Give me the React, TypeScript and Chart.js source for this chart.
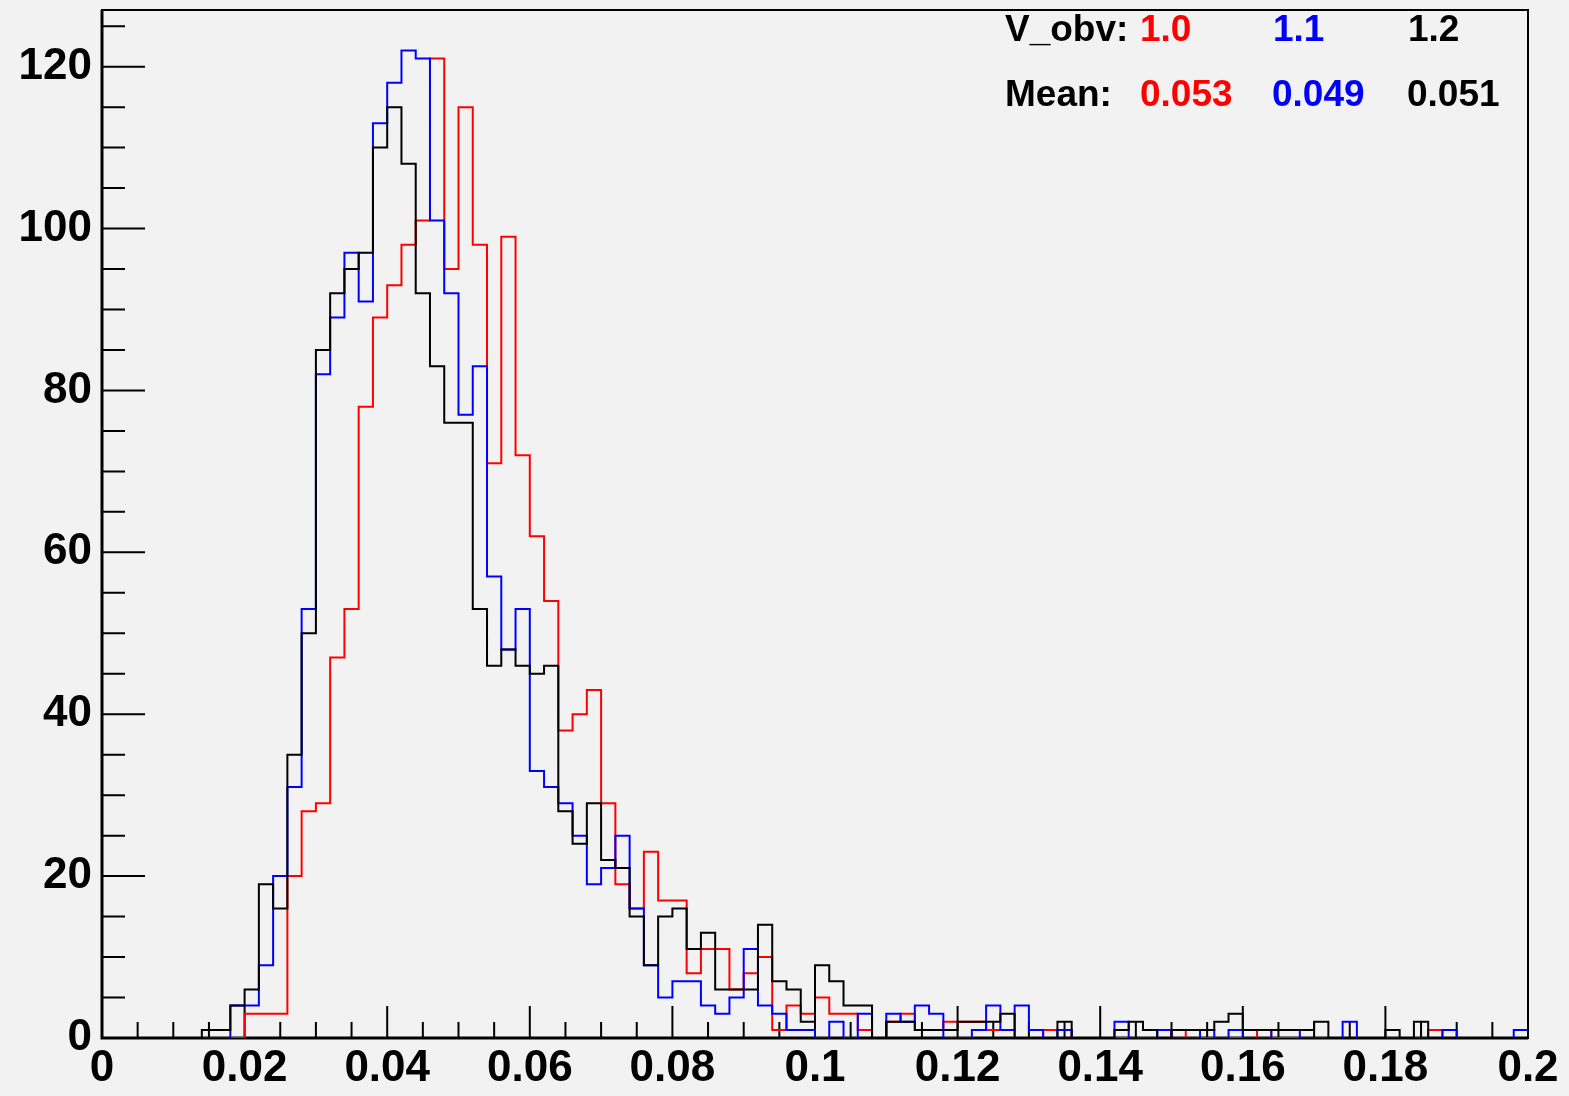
import React, { useEffect, useRef } from 'react';
import { Chart, registerables } from 'chart.js';

Chart.register(...registerables);

// ---- axis definition ----
const X_MIN = 0;
const X_MAX = 0.2;
const BIN_WIDTH = 0.002;
const Y_MIN = 0;
const Y_MAX = 127;

const X_TICKS = [0, 0.02, 0.04, 0.06, 0.08, 0.1, 0.12, 0.14, 0.16, 0.18, 0.2];
const X_TICK_LABELS = ['0', '0.02', '0.04', '0.06', '0.08', '0.1', '0.12', '0.14', '0.16', '0.18', '0.2'];
const X_MINOR_STEP = 0.005;
const Y_TICKS = [0, 20, 40, 60, 80, 100, 120];
const Y_TICK_LABELS = ['0', '20', '40', '60', '80', '100', '120'];
const Y_MINOR_STEP = 5;

// ---- legend text ----
const SERIES_NAMES = ['1.0', '1.1', '1.2'];
const SERIES_MEANS = ['0.053', '0.049', '0.051'];
const SERIES_COLORS = ['#ff0000', '#0000ff', '#000000'];

// ---- bin contents (100 bins of width 0.002 from 0 to 0.2) ----
const RED_COUNTS = [
  0, 0, 0, 0, 0, 0, 0, 0, 0, 0,
  3, 3, 3, 20, 28, 29, 47, 53, 78, 89,
  93, 98, 101, 121, 95, 115, 98, 71, 99, 72,
  62, 54, 38, 40, 43, 29, 19, 16, 23, 17,
  17, 8, 11, 11, 6, 8, 10, 1, 4, 3,
  5, 3, 3, 1, 0, 2, 3, 1, 1, 2,
  2, 2, 1, 1, 0, 0, 1, 1, 0, 0,
  0, 0, 0, 0, 0, 1, 0, 0, 0, 0,
  0, 1, 0, 0, 0, 0, 0, 0, 0, 0,
  0, 0, 0, 1, 0, 0, 0, 0, 0, 0,
];

const BLUE_COUNTS = [
  0, 0, 0, 0, 0, 0, 0, 0, 0, 4,
  4, 9, 20, 31, 53, 82, 89, 97, 91, 113,
  118, 122, 121, 101, 92, 77, 83, 57, 48, 53,
  33, 31, 29, 25, 19, 21, 25, 16, 9, 5,
  7, 7, 4, 3, 5, 11, 4, 3, 1, 1,
  0, 2, 0, 3, 0, 3, 2, 4, 3, 0,
  0, 1, 4, 1, 4, 1, 0, 1, 0, 0,
  0, 2, 0, 0, 1, 0, 0, 1, 0, 1,
  0, 0, 1, 1, 0, 0, 0, 2, 0, 0,
  0, 0, 0, 0, 1, 0, 0, 0, 0, 1,
];

const BLACK_COUNTS = [
  0, 0, 0, 0, 0, 0, 0, 1, 1, 4,
  6, 19, 16, 35, 50, 85, 92, 95, 97, 110,
  115, 108, 92, 83, 76, 76, 53, 46, 48, 46,
  45, 46, 28, 24, 29, 22, 21, 15, 9, 15,
  16, 11, 13, 6, 6, 6, 14, 7, 6, 2,
  9, 7, 4, 4, 0, 2, 2, 1, 1, 1,
  2, 2, 2, 3, 0, 0, 0, 2, 0, 0,
  0, 1, 2, 1, 0, 1, 1, 1, 2, 3,
  1, 1, 1, 1, 1, 2, 0, 0, 0, 0,
  1, 0, 2, 0, 0, 0, 0, 0, 0, 0,
];

const FONT_FAMILY = '"Liberation Sans", Arial, Helvetica, sans-serif';

function makePoints(counts: number[]) {
  const pts = counts.map((c, i) => ({ x: X_MIN + i * BIN_WIDTH, y: c }));
  pts.push({ x: X_MIN + counts.length * BIN_WIDTH, y: counts[counts.length - 1] });
  return pts;
}

const framePlugin = {
  id: 'rootFrame',
  beforeDatasetsDraw(chart: any) {
    const { ctx, chartArea, scales } = chart;
    const { left, right, top, bottom } = chartArea;
    const xs = scales.x;
    const ys = scales.y;
    ctx.save();
    ctx.strokeStyle = '#000';
    ctx.lineCap = 'butt';
    // frame
    ctx.lineWidth = 2;
    ctx.strokeRect(left, top, right - left, bottom - top);
    // axis lines
    ctx.lineWidth = 3;
    ctx.beginPath();
    ctx.moveTo(left, top);
    ctx.lineTo(left, bottom);
    ctx.lineTo(right, bottom);
    ctx.stroke();
    // x ticks (inward)
    ctx.lineWidth = 2;
    ctx.beginPath();
    const nx = Math.round((X_MAX - X_MIN) / X_MINOR_STEP);
    for (let i = 0; i <= nx; i++) {
      const v = X_MIN + i * X_MINOR_STEP;
      const px = xs.getPixelForValue(v);
      const len = i % 4 === 0 ? 32 : 16;
      ctx.moveTo(px, bottom);
      ctx.lineTo(px, bottom - len);
    }
    // y ticks (inward)
    const ny = Math.floor((Y_MAX - Y_MIN) / Y_MINOR_STEP);
    for (let i = 0; i <= ny; i++) {
      const v = Y_MIN + i * Y_MINOR_STEP;
      const py = ys.getPixelForValue(v);
      const len = i % 4 === 0 ? 43 : 23;
      ctx.moveTo(left, py);
      ctx.lineTo(left + len, py);
    }
    ctx.stroke();
    ctx.restore();
  },
};

export default function App() {
  const canvasRef = useRef<HTMLCanvasElement | null>(null);

  useEffect(() => {
    const canvas = canvasRef.current;
    if (!canvas) return;
    const common = {
      stepped: true,
      borderWidth: 2,
      pointRadius: 0,
      pointHoverRadius: 0,
      fill: false,
      tension: 0,
      borderJoinStyle: 'miter',
      borderCapStyle: 'butt',
    };
    const chart = new Chart(canvas, {
      type: 'line',
      data: {
        datasets: [
          { ...common, label: 'V_obv ' + SERIES_NAMES[2], data: makePoints(BLACK_COUNTS), borderColor: SERIES_COLORS[2], order: 0 },
          { ...common, label: 'V_obv ' + SERIES_NAMES[1], data: makePoints(BLUE_COUNTS), borderColor: SERIES_COLORS[1], order: 1 },
          { ...common, label: 'V_obv ' + SERIES_NAMES[0], data: makePoints(RED_COUNTS), borderColor: SERIES_COLORS[0], order: 2 },
        ],
      } as any,
      options: {
        animation: false,
        responsive: false,
        maintainAspectRatio: false,
        devicePixelRatio: 1,
        events: [],
        layout: { padding: { left: 0, top: 10, right: 41, bottom: 0 } },
        plugins: { legend: { display: false }, tooltip: { enabled: false } },
        scales: {
          x: {
            type: 'linear',
            min: X_MIN,
            max: X_MAX,
            grid: { display: false, drawTicks: false },
            border: { display: false },
            afterBuildTicks: (s: any) => {
              s.ticks = X_TICKS.map((v) => ({ value: v }));
            },
            afterFit: (s: any) => {
              s.height = 58;
              s.paddingLeft = 0;
              s.paddingRight = 0;
            },
            ticks: {
              autoSkip: false,
              maxRotation: 0,
              minRotation: 0,
              padding: 4,
              color: '#000',
              font: { family: FONT_FAMILY, size: 44, weight: 'bold' },
              callback: (_v: any, i: number) => X_TICK_LABELS[i],
            },
          },
          y: {
            type: 'linear',
            min: Y_MIN,
            max: Y_MAX,
            grid: { display: false, drawTicks: false },
            border: { display: false },
            afterBuildTicks: (s: any) => {
              s.ticks = Y_TICKS.map((v) => ({ value: v }));
            },
            afterFit: (s: any) => {
              s.width = 102;
              s.paddingTop = 0;
              s.paddingBottom = 0;
            },
            ticks: {
              autoSkip: false,
              padding: 10,
              color: '#000',
              font: { family: FONT_FAMILY, size: 44, weight: 'bold' },
              callback: (_v: any, i: number) => Y_TICK_LABELS[i],
            },
          },
        },
      } as any,
      plugins: [framePlugin],
    });
    return () => chart.destroy();
  }, []);

  const legendFont: React.CSSProperties = {
    position: 'absolute',
    fontFamily: FONT_FAMILY,
    fontWeight: 'bold',
    fontSize: 37,
    lineHeight: '37px',
    whiteSpace: 'nowrap',
  };
  const nameX = [1140, 1273, 1408];
  const meanX = [1140, 1272, 1407];

  return (
    <div
      style={{
        position: 'fixed',
        left: 0,
        top: 0,
        width: 1569,
        height: 1096,
        background: '#f2f2f2',
        overflow: 'hidden',
      }}
    >
      <canvas ref={canvasRef} width={1569} height={1096} style={{ display: 'block', width: 1569, height: 1096 }} />
      <span style={{ ...legendFont, left: 1005, top: 10, color: '#000' }}>V_obv:</span>
      {SERIES_NAMES.map((n, i) => (
        <span key={'n' + i} style={{ ...legendFont, left: nameX[i], top: 10, color: SERIES_COLORS[i] }}>
          {n}
        </span>
      ))}
      <span style={{ ...legendFont, left: 1005, top: 75, color: '#000' }}>Mean:</span>
      {SERIES_MEANS.map((m, i) => (
        <span key={'m' + i} style={{ ...legendFont, left: meanX[i], top: 75, color: SERIES_COLORS[i] }}>
          {m}
        </span>
      ))}
    </div>
  );
}
